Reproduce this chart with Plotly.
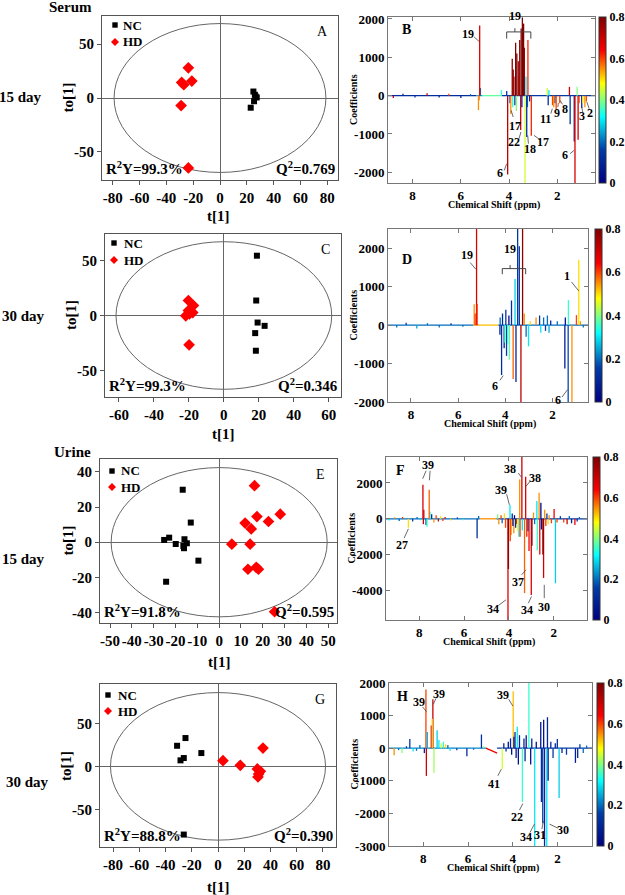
import plotly.graph_objects as go
from plotly.colors import sample_colorscale

W, H = 625, 895
FONT = "Liberation Serif, Times New Roman, serif"

# ---------------- score plot data (t[1], to[1]) ----------------
A_nc_t = [24.9, 26.0, 27.4, 25.4, 22.9, 26.5]
A_nc_to = [6.0, 3.0, 0.5, -3.0, -9.0, 1.5]
A_hd_t = [-23.6, -28.6, -27.0, -21.0, -29.0, -23.6]
A_hd_to = [28.0, 14.4, 12.3, 15.7, -7.0, -64.8]

C_nc_t = [18.9, 18.5, 19.3, 23.3, 17.9, 18.3]
C_nc_to = [54.3, 13.6, -6.4, -9.4, -16.0, -32.0]
C_hd_t = [-20.3, -17.4, -20.3, -17.8, -21.8, -19.7, -19.9]
C_hd_to = [13.6, 9.1, 4.5, 2.7, -0.3, 1.5, -26.6]

E_nc_t = [-16.7, -13.0, -25.2, -22.9, -19.9, -15.9, -14.8, -16.4, -16.1, -9.5, -24.3]
E_nc_to = [29.9, 11.2, 1.3, 2.6, -1.0, 1.7, -0.6, -2.1, -3.4, -10.5, -22.5]
E_hd_t = [16.2, 11.9, 14.7, 17.3, 22.6, 28.0, 5.8, 14.2, 13.2, 17.0, 18.0, 25.4]
E_hd_to = [32.2, 10.9, 7.6, 14.6, 11.8, 16.0, -1.1, -1.1, -15.4, -14.3, -15.4, -39.6]

G_nc_t = [-24.8, -31.2, -12.7, -26.1, -28.6, -26.1]
G_nc_to = [33.0, 24.0, 15.5, 9.7, 7.0, -79.5]
G_hd_t = [3.8, 17.0, 34.3, 30.0, 32.3, 30.5, 31.0]
G_hd_to = [6.6, 1.2, 21.3, -3.0, -5.8, -12.3, -9.0]

# Hotelling ellipse semi-axes (t, to)
ELL_A = [79, 69]
ELL_C = [61.7, 67]
ELL_E = [49.5, 42.5]
ELL_G = [82, 86]

STATS = {"A": ["R<sup>2</sup>Y=99.3%", "Q<sup>2</sup>=0.769"],
         "C": ["R<sup>2</sup>Y=99.3%", "Q<sup>2</sup>=0.346"],
         "E": ["R<sup>2</sup>Y=91.8%", "Q<sup>2</sup>=0.595"],
         "G": ["R<sup>2</sup>Y=88.8%", "Q<sup>2</sup>=0.390"]}
GROUPS = ["NC", "HD"]

# ---------------- loading spectra: ppm, coefficient, colour value ----------------
B_ppm = [8.8, 8.4, 7.9, 7.4, 6.9, 6.5, 6.0, 5.6,
         5.27, 5.25, 5.22, 5.19, 4.32, 4.10, 4.06, 3.96, 3.93, 3.87, 3.85, 3.83, 3.80,
         3.76, 3.73, 3.70, 3.68, 3.62, 3.60, 3.56, 3.52, 3.50, 3.47, 3.45, 3.40,
         3.37, 3.34, 3.30, 3.27, 3.24, 3.22, 3.15, 3.08, 2.42, 2.38, 2.35,
         2.20, 2.15, 2.10, 2.05, 1.90, 1.50, 1.47, 1.30, 1.27, 1.18, 1.14, 1.10,
         0.99, 0.95, 0.86, 0.80]
B_coef = [-60, 50, -50, 60, -50, 50, -60, 40,
          -380, -120, 1830, 200, 150, 120, -2060, -200, -480, 960, -300, 680, 500,
          -250, 1380, -400, 1100, 900, 500, 1450, -900, 1750, -300, 2040, 1880,
          1250, -2280, 500, -1080, -300, 1450, -150, -1050, 200, -250, 150,
          -250, -300, -200, -350, -200, 230, -750, -1200, -2280, 230, -1150, -200,
          -320, -200, -300, -150]
B_val = [0.7, 0.1, 0.15, 0.7, 0.1, 0.6, 0.1, 0.2,
         0.55, 0.6, 0.68, 0.2, 0.35, 0.15, 0.72, 0.1, 0.55, 0.78, 0.35, 0.8, 0.75,
         0.1, 0.8, 0.4, 0.8, 0.75, 0.55, 0.8, 0.7, 0.8, 0.1, 0.8, 0.8,
         0.78, 0.45, 0.3, 0.12, 0.2, 0.62, 0.1, 0.62, 0.45, 0.12, 0.3,
         0.6, 0.55, 0.15, 0.6, 0.6, 0.7, 0.15, 0.1, 0.68, 0.4, 0.7, 0.6,
         0.12, 0.5, 0.55, 0.6]
B_base_from = [9.05, 5.35, 5.10, 4.30]
B_base_to = [5.35, 5.10, 4.30, 0.40]
B_base_val = [0.12, 0.25, 0.38, 0.15]

D_ppm = [8.6, 8.2, 7.75, 7.3, 6.8, 6.3, 5.8,
         5.32, 5.28, 5.22, 5.20, 4.23, 4.22, 4.16, 4.12, 4.05, 4.02,
         3.98, 3.95, 3.90, 3.85, 3.83, 3.74, 3.67, 3.59, 3.55, 3.48, 3.41,
         3.34, 3.27, 3.20, 3.12, 3.02, 2.95, 2.70, 2.55, 2.50, 2.38, 2.30, 2.22,
         2.15, 2.08, 1.80, 1.48, 1.46, 1.34, 1.33, 1.18, 0.99, 0.89, 0.82, 0.70]
D_coef = [-60, 60, -90, 50, -60, 50, -40,
          540, 300, 2600, 550, -250, 200, -1300, 300, -600, -450,
          400, -800, -500, 250, -900, 640, -1400, 1200, -1480, 2600, 2050,
          -2000, 2600, 300, -300, -550, 100, 200, 250, -200, 200, -150, 250,
          -200, 120, 100, -1130, 200, -2000, 650, -2000, 260, 1700, 100, -60]
D_val = [0.2, 0.15, 0.25, 0.2, 0.2, 0.15, 0.2,
         0.55, 0.6, 0.68, 0.62, 0.1, 0.2, 0.12, 0.1, 0.1, 0.35,
         0.15, 0.15, 0.35, 0.02, 0.38, 0.12, 0.58, 0.28, 0.1, 0.15, 0.12,
         0.72, 0.78, 0.55, 0.2, 0.3, 0.5, 0.55, 0.15, 0.3, 0.2, 0.15, 0.2,
         0.25, 0.1, 0.2, 0.08, 0.05, 0.17, 0.35, 0.55, 0.6, 0.5, 0.55, 0.2]
D_base_from = [9.0, 5.35, 5.12, 4.30]
D_base_to = [5.35, 5.12, 4.30, 0.45]
D_base_val = [0.2, 0.55, 0.52, 0.2]

F_ppm = [9.35, 9.10, 8.90, 8.75, 8.49, 8.30, 8.10, 7.95,
         7.84, 7.82, 7.80, 7.70, 7.66, 7.56, 7.52, 7.45, 7.35, 7.25, 7.15, 7.05, 6.95, 6.85,
         6.60, 6.30, 6.05, 5.42, 5.35, 4.50, 4.45, 4.35, 4.30, 4.20, 4.15,
         4.04, 4.02, 3.95, 3.94, 3.90, 3.85, 3.82, 3.78, 3.75, 3.70, 3.66, 3.60,
         3.55, 3.52, 3.50, 3.42, 3.40, 3.30, 3.25, 3.20, 3.15, 3.10, 3.00, 2.97,
         2.90, 2.85, 2.75, 2.73, 2.65, 2.62, 2.57, 2.55, 2.48, 2.45, 2.40, 2.35,
         2.30, 2.25, 2.20, 2.10, 1.98, 1.92, 1.85, 1.70, 1.55, 1.40, 1.30, 1.20,
         1.05, 0.95, 0.85]
F_coef = [-100, 80, -120, 100, -500, -150, 100, -80,
          1900, -300, 500, -350, -450, 1620, 400, 250, -200, 200, -150, 150, -120, 100,
          -100, 80, -80, -1080, 150, 250, -300, 200, -250, 300, -500,
          -5700, -2800, 780, -1250, -900, 300, -400, -800, 200, -500, -300, -700,
          -1000, 2200, -1000, 3500, -650, -4150, 2350, -1000, -700, -1800, -4250, -1500,
          350, -300, 1000, -1750, 1450, -2000, 900, -600, -2000, -3300, 500, -400,
          300, -300, 200, -250, 550, -3600, -200, 150, -200, -300, 150, -250,
          -350, -150, 100]
F_val = [0.3, 0.55, 0.2, 0.6, 0.5, 0.15, 0.2, 0.3,
         0.68, 0.7, 0.7, 0.1, 0.35, 0.58, 0.35, 0.1, 0.55, 0.6, 0.7, 0.5, 0.6, 0.65,
         0.5, 0.15, 0.35, 0.12, 0.2, 0.4, 0.55, 0.6, 0.2, 0.5, 0.6,
         0.68, 0.78, 0.3, 0.6, 0.55, 0.1, 0.05, 0.55, 0.0, 0.12, 0.6, 0.45,
         0.3, 0.55, 0.6, 0.7, 0.3, 0.58, 0.68, 0.62, 0.12, 0.65, 0.68, 0.78,
         0.55, 0.2, 0.3, 0.35, 0.55, 0.65, 0.02, 0.05, 0.8, 0.7, 0.55, 0.6,
         0.15, 0.5, 0.55, 0.6, 0.65, 0.28, 0.6, 0.15, 0.6, 0.7, 0.2, 0.1,
         0.65, 0.1, 0.2]
F_base_from = [9.55, 5.30, 4.55]
F_base_to = [5.30, 4.55, 0.45]
F_base_val = [0.2, 0.55, 0.15]

H_ppm = [9.30, 9.10, 8.95, 8.75, 8.60, 8.45, 8.30, 8.15, 7.95,
         7.88, 7.86, 7.82, 7.64, 7.60, 7.57, 7.52, 7.38, 7.30, 7.20, 7.10, 7.00, 6.90, 6.80,
         6.50, 6.05, 5.75, 5.40, 5.30, 4.47, 4.40, 4.30, 4.20, 4.10, 4.05,
         3.98, 3.95, 3.90, 3.85, 3.80, 3.75, 3.70, 3.57, 3.50, 3.45, 3.40,
         3.28, 3.20, 3.15, 3.02, 2.95, 2.75, 2.72, 2.66, 2.62, 2.58,
         2.48, 2.45, 2.42, 2.30, 2.20, 2.10, 2.01, 1.93,
         1.80, 1.60, 1.20, 1.10, 1.00, 0.85, 0.70]
H_coef = [-220, -60, -150, 60, 280, -100, -80, 100, -150,
          1800, -850, 500, 700, 900, 1500, -750, 550, 250, 150, 200, 120, 100, -80,
          -60, -250, -50, 420, 60, -640, 150, -100, 200, 300, -200,
          1750, 350, 500, -300, 660, -500, 400, -1650, 300, -400, 400,
          2000, -500, 300, -3000, 200, 800, -1650, -2300, 870, -3000,
          -3000, 950, -1000, 200, -300, 150, 280, -1530,
          -150, -200, -450, -300, 120, -150, 80]
H_val = [0.55, 0.2, 0.4, 0.15, 0.15, 0.3, 0.2, 0.2, 0.1,
         0.6, 0.7, 0.25, 0.7, 0.5, 0.7, 0.42, 0.28, 0.3, 0.45, 0.35, 0.5, 0.2, 0.3,
         0.15, 0.12, 0.2, 0.12, 0.4, 0.45, 0.1, 0.15, 0.05, 0.1, 0.05,
         0.52, 0.08, 0.1, 0.05, 0.3, 0.05, 0.1, 0.35, 0.1, 0.1, 0.05,
         0.35, 0.05, 0.1, 0.3, 0.05, 0.06, 0.12, 0.15, 0.05, 0.1,
         0.3, 0.1, 0.05, 0.1, 0.15, 0.1, 0.12, 0.28,
         0.1, 0.15, 0.08, 0.1, 0.15, 0.2, 0.2]
H_base_from = [9.6, 5.20, 4.70]
H_base_to = [5.20, 4.70, 0.40]
H_base_y0 = [0, 0, 0]
H_base_y1 = [0, -150, 0]
H_base_val = [0.22, 0.65, 0.15]

CB_TICKS = [0, 0.2, 0.4, 0.6, 0.8]
CB_LABELS = ["0", "0.2", "0.4", "0.6", "0.8"]

# ---------------- helpers ----------------
def px(x):
    return x / W

def py(y):
    return 1 - y / H

def jet(v):
    return sample_colorscale("Jet", [max(0.0, min(1.0, v / 0.8))])[0]

def bfont(size, bold=True):
    d = dict(family=FONT, size=size, color="black")
    if bold:
        d["weight"] = "bold"
    return d

def note(text, x, y, size=15, bold=True, xanchor="center", yanchor="middle", angle=0):
    return dict(text=text, x=px(x), y=py(y), xref="paper", yref="paper",
                xanchor=xanchor, yanchor=yanchor, showarrow=False, textangle=angle,
                font=bfont(size, bold))

fig = go.Figure()

# panel boxes in pixels: left, right, top, bottom
BOX = {
    1: (102, 338, 16, 180),   # A
    2: (388, 595, 17, 183),   # B
    3: (105, 341, 234, 397),  # C
    4: (388, 588, 229, 402),  # D
    5: (100, 337, 459, 623),  # E
    6: (386, 587, 457, 620),  # F
    7: (100, 336, 684, 847),  # G
    8: (389, 592, 683, 846),  # H
}
# legend key offsets (marker x, NC y, HD y, text x) relative to panel corner
LEG_OFF = {1: (13, 9, 26, 19), 3: (9, 9, 26, 17), 5: (12, 12, 28, 19), 7: (8, 11, 27, 16)}
# panel letter offsets for spectra (dx, dy from panel corner)
LETTER_OFF = {2: (18, 12), 4: (19, 30), 6: (15, 13), 8: (13, 13)}

def ax_names(i):
    s = "" if i == 1 else str(i)
    return "x" + s, "y" + s, "xaxis" + s, "yaxis" + s

layout_axes = {}
shapes = []
annotations = []

def score_panel(i, nc_t, nc_to, hd_t, hd_to, ell, xr, yr, xt, yt, letter, stats):
    xa, ya, xk, yk = ax_names(i)
    l, r, t, b = BOX[i]
    tickfont = bfont(15)
    common = dict(ticks="outside", ticklen=4, tickcolor="#555", tickangle=0,
                  showline=True, linecolor="#555", linewidth=1, mirror=True,
                  showgrid=False, zeroline=True, zerolinecolor="#666",
                  zerolinewidth=1, tickfont=tickfont)
    layout_axes[xk] = dict(domain=[px(l), px(r)], range=xr, anchor=ya,
                           tickvals=xt, ticktext=[str(v) for v in xt], **common)
    layout_axes[yk] = dict(domain=[py(b), py(t)], range=yr, anchor=xa,
                           tickvals=yt, ticktext=[str(v) for v in yt], **common)
    shapes.append(dict(type="circle", xref=xa, yref=ya, x0=-ell[0], x1=ell[0],
                       y0=-ell[1], y1=ell[1], line=dict(color="#666", width=1),
                       layer="below"))
    fig.add_trace(go.Scatter(x=nc_t, y=nc_to, mode="markers", name=GROUPS[0],
                             marker=dict(symbol="square", size=6, color="black"),
                             xaxis=xa, yaxis=ya, showlegend=False, hoverinfo="skip"))
    fig.add_trace(go.Scatter(x=hd_t, y=hd_to, mode="markers", name=GROUPS[1],
                             marker=dict(symbol="diamond", size=9, color="#ff0000"),
                             xaxis=xa, yaxis=ya, showlegend=False, hoverinfo="skip"))
    # legend key
    mx, y1, y2, tx = LEG_OFF[i]
    cx, cy = l + mx, t + y1
    shapes.append(dict(type="rect", xref="paper", yref="paper",
                       x0=px(cx - 2.7), x1=px(cx + 2.7), y0=py(cy + 2.7), y1=py(cy - 2.7),
                       fillcolor="black", line=dict(width=0)))
    cy2 = t + y2
    shapes.append(dict(type="path", xref="paper", yref="paper",
                       path=f"M {px(cx - 4)},{py(cy2)} L {px(cx)},{py(cy2 - 4)} "
                            f"L {px(cx + 4)},{py(cy2)} L {px(cx)},{py(cy2 + 4)} Z",
                       fillcolor="#ff0000", line=dict(width=0)))
    for g, yy in zip(GROUPS, [cy, cy2]):
        annotations.append(note(g, l + tx, yy, 13, xanchor="left"))
    annotations.append(note(letter, r - 16, t + 15, 14, bold=False))
    annotations.append(note(stats[0], l + 2, b - 1, 15, xanchor="left", yanchor="bottom"))
    annotations.append(note(stats[1], r - 1, b - 1, 15, xanchor="right", yanchor="bottom"))

def spectrum_panel(i, ppm, coef, val, base_from, base_to, base_val, xr, yr, yt,
                   cb_left, letter, base_y0=None, base_y1=None):
    xa, ya, xk, yk = ax_names(i)
    l, r, t, b = BOX[i]
    tickfont = bfont(13)
    common = dict(ticks="inside", ticklen=4, tickcolor="#777", tickangle=0,
                  showline=True, linecolor="#777", linewidth=1, mirror="ticks",
                  showgrid=False, zeroline=False, tickfont=tickfont)
    layout_axes[xk] = dict(domain=[px(l), px(r)], range=xr, anchor=ya,
                           tickvals=[8, 6, 4, 2], ticktext=["8", "6", "4", "2"], **common)
    layout_axes[yk] = dict(domain=[py(b), py(t)], range=yr, anchor=xa,
                           tickvals=yt, ticktext=[str(v) for v in yt], **common)
    if base_y0 is None:
        base_y0 = [0] * len(base_from)
        base_y1 = [0] * len(base_from)
    for s, e, y0, y1, v in zip(base_from, base_to, base_y0, base_y1, base_val):
        fig.add_trace(go.Scatter(x=[s, e], y=[y0, y1], mode="lines",
                                 line=dict(color=jet(v), width=1.3),
                                 xaxis=xa, yaxis=ya, showlegend=False, hoverinfo="skip"))
    groups = {}
    for p, c, v in zip(ppm, coef, val):
        col = jet(v)
        g = groups.setdefault(col, ([], []))
        g[0].extend([p, p, None])
        g[1].extend([0, c, None])
    for col, (xs, ys) in groups.items():
        fig.add_trace(go.Scatter(x=xs, y=ys, mode="lines", line=dict(color=col, width=1.3),
                                 xaxis=xa, yaxis=ya, showlegend=False, hoverinfo="skip"))
    cbar = dict(x=px(cb_left), xanchor="left", xpad=0, xref="paper",
                y=py((t + b) / 2), yanchor="middle", yref="paper",
                len=(b - t) / H, lenmode="fraction",
                ypad=0, thickness=7, thicknessmode="pixels",
                outlinewidth=1, outlinecolor="#333", borderwidth=0,
                tickvals=CB_TICKS, ticktext=CB_LABELS,
                ticks="", ticklen=0, tickfont=bfont(12))
    fig.add_trace(go.Scatter(x=[-50], y=[0], mode="markers", xaxis=xa, yaxis=ya,
                             showlegend=False, hoverinfo="skip",
                             marker=dict(color=[0.4], colorscale="Jet", cmin=0, cmax=0.8,
                                         showscale=True, colorbar=cbar)))
    dx, dy = LETTER_OFF[i]
    annotations.append(note(letter, l + dx, t + dy, 14))
    annotations.append(note("Chemical Shift (ppm)", (l + r) / 2 + 2, b + 22, 10))
    annotations.append(note("Coefficients", l - 35, (t + b) / 2, 10, angle=-90))

score_panel(1, A_nc_t, A_nc_to, A_hd_t, A_hd_to, ELL_A, [-88, 88], [-76, 76],
            [-80, -60, -40, -20, 0, 20, 40, 60, 80], [-50, 0, 50], "A", STATS["A"])
score_panel(3, C_nc_t, C_nc_to, C_hd_t, C_hd_to, ELL_C, [-68, 67], [-74, 74],
            [-60, -40, -20, 0, 20, 40, 60], [-50, 0, 50], "C", STATS["C"])
score_panel(5, E_nc_t, E_nc_to, E_hd_t, E_hd_to, ELL_E, [-54.6, 54], [-46, 47.4],
            [-50, -40, -30, -20, -10, 0, 10, 20, 30, 40, 50], [-40, -20, 0, 20, 40],
            "E", STATS["E"])
score_panel(7, G_nc_t, G_nc_to, G_hd_t, G_hd_to, ELL_G, [-90, 90], [-94, 96],
            [-80, -60, -40, -20, 0, 20, 40, 60, 80], [-50, 0, 50], "G", STATS["G"])

spectrum_panel(2, B_ppm, B_coef, B_val, B_base_from, B_base_to, B_base_val,
               [9.02, 0.44], [-2280, 2052], [-2000, -1000, 0, 1000, 2000], 599, "B")
spectrum_panel(4, D_ppm, D_coef, D_val, D_base_from, D_base_to, D_base_val,
               [8.97, 0.5], [-2000, 2500], [-2000, -1000, 0, 1000, 2000], 595, "D")
spectrum_panel(6, F_ppm, F_coef, F_val, F_base_from, F_base_to, F_base_val,
               [9.49, 0.51], [-5650, 3450], [-4000, -2000, 0, 2000], 593, "F")
spectrum_panel(8, H_ppm, H_coef, H_val, H_base_from, H_base_to, H_base_val,
               [9.53, 0.46], [-3000, 2000], [-3000, -2000, -1000, 0, 1000, 2000], 597, "H",
               H_base_y0, H_base_y1)

# peak labels: (axis index, text, text x, text y, line x0, y0, x1, y1)
PEAK_LABELS = [
    (2, "19", 5.69, 1600, 5.45, 1530, 5.22, 1400),
    (2, "17", 3.76, -790, 3.83, -557, 3.92, -383),
    (2, "22", 3.78, -1210, 3.59, -1123, 3.51, -948),
    (2, "18", 3.13, -1384, 3.20, -1253, 3.23, -1036),
    (2, "17", 2.58, -1210, 2.72, -1149, 2.97, -1036),
    (2, "6", 4.38, -2018, 4.20, -1950, 4.10, -1775),
    (2, "11", 2.51, -600, 2.27, -470, 2.21, -340),
    (2, "9", 2.02, -444, 1.98, -296, 1.96, -192),
    (2, "8", 1.68, -340, 1.79, -226, 1.89, -122),
    (2, "6", 1.68, -1560, 1.47, -1514, 1.31, -1428),
    (2, "3", 0.96, -540, 0.95, -427, 0.99, -296),
    (2, "2", 0.66, -444, 0.68, -340, 0.78, -165),
    (4, "19", 5.63, 1820, 5.49, 1627, 5.25, 1455),
    (4, "6", 4.44, -1575, 4.23, -1436, 4.09, -1314),
    (4, "1", 1.37, 1280, 1.20, 1123, 0.89, 888),
    (4, "6", 1.76, -1950, 1.60, -1871, 1.37, -1680),
    (6, "39", 7.60, 3017, 7.70, 2682, 7.85, 2235),
    (6, "", 7.60, 3017, 7.52, 2682, 7.55, 2150),
    (6, "27", 8.79, -1490, 8.68, -1080, 8.49, -560),
    (6, "38", 3.95, 2794, 3.58, 2553, 3.43, 2309),
    (6, "38", 2.84, 2274, 3.06, 2086, 3.24, 1806),
    (6, "39", 4.37, 1620, 4.10, 1378, 3.98, 782),
    (6, "37", 3.61, -3503, 3.43, -3129, 3.24, -2850),
    (6, "34", 4.73, -5028, 4.47, -4843, 4.13, -4525),
    (6, "34", 3.21, -5084, 3.13, -4712, 2.99, -4340),
    (6, "30", 2.42, -4899, 2.42, -4431, 2.42, -3687),
    (8, "39", 8.18, 1427, 8.03, 1265, 7.85, 1121),
    (8, "39", 7.28, 1672, 7.43, 1531, 7.55, 1348),
    (8, "39", 4.45, 1633, 4.18, 1500, 4.00, 1296),
    (8, "41", 4.82, -1084, 4.67, -848, 4.51, -643),
    (8, "22", 3.82, -2125, 3.70, -1899, 3.55, -1697),
    (8, "34", 3.40, -2738, 3.23, -2585, 3.03, -2328),
    (8, "31", 2.77, -2656, 2.70, -2481, 2.63, -2227),
    (8, "30", 1.76, -2512, 1.99, -2451, 2.36, -2328),
]
for i, txt, tx, ty, x0, y0, x1, y1 in PEAK_LABELS:
    xa, ya, _, _ = ax_names(i)
    if txt:
        annotations.append(dict(text=txt, x=tx, y=ty, xref=xa, yref=ya, showarrow=False,
                                xanchor="center", yanchor="middle", font=bfont(12)))
    shapes.append(dict(type="line", xref=xa, yref=ya, x0=x0, y0=y0, x1=x1, y1=y1,
                       line=dict(color="#444", width=0.8)))

# brackets over the 19 cluster: (axis, left, right, level, drop, mid x, mid rise, text y)
BRACKETS = [(2, 4.10, 3.10, 1663, 1488, 3.76, 1760, 1850),
            (4, 4.13, 3.14, 1470, 1324, 3.80, 1560, 1740)]
for i, xl, xr_, lev, drop, mx, rise, ty in BRACKETS:
    xa, ya, _, _ = ax_names(i)
    shapes.append(dict(type="path", xref=xa, yref=ya,
                       path=f"M {xl},{drop} L {xl},{lev} L {xr_},{lev} L {xr_},{drop} "
                            f"M {mx},{lev} L {mx},{rise}",
                       line=dict(color="#444", width=1)))
    annotations.append(dict(text="19", x=mx, y=ty, xref=xa, yref=ya, showarrow=False,
                            xanchor="center", font=bfont(12), yanchor="bottom"))

# outer labels
OUTER = [("Serum", 70, 7, 0), ("Urine", 72, 452, 0),
         ("15 day", 20, 97, 0), ("30 day", 23, 316, 0),
         ("15 day", 23, 559, 0), ("30 day", 27, 782, 0),
         ("to[1]", 67.5, 98, -90), ("to[1]", 71, 315, -90),
         ("to[1]", 67.5, 541, -90), ("to[1]", 66, 766, -90),
         ("t[1]", 218, 216, 0), ("t[1]", 223, 434, 0),
         ("t[1]", 219, 662, 0), ("t[1]", 218, 887, 0)]
for txt, x, y, ang in OUTER:
    annotations.append(note(txt, x, y, 15, angle=ang))

fig.update_layout(width=W, height=H, margin=dict(l=0, r=0, t=0, b=0, autoexpand=False),
                  paper_bgcolor="white", plot_bgcolor="white",
                  showlegend=False, shapes=shapes, annotations=annotations,
                  **layout_axes)

fig.write_html("out.html", config={"displayModeBar": False},
               post_script="document.body.style.margin='0px';")
